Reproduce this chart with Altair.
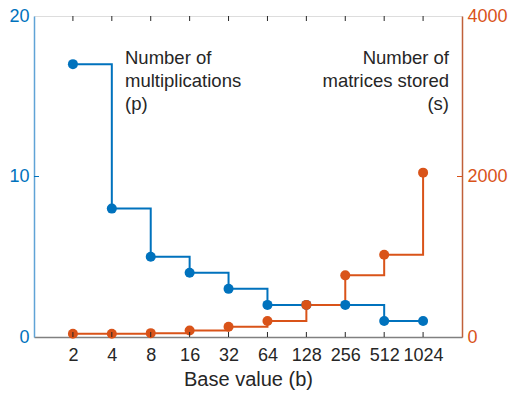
import altair as alt
import pandas as pd

# data
base_values = [2, 4, 8, 16, 32, 64, 128, 256, 512, 1024]
multiplications = [17, 8, 5, 4, 3, 2, 2, 2, 1, 1]
matrices_stored = [40, 40, 48, 80, 128, 200, 400, 768, 1024, 2048]
left_ticks = [0, 10, 20]
right_ticks = [0, 2000, 4000]
label_p = ["Number of", "multiplications", "(p)"]
label_s = ["Number of", "matrices stored", "(s)"]

BLUE = "#0072BD"
ORANGE = "#D95319"
DARK = "#262626"
FONT = "Liberation Sans"

df = pd.DataFrame({"b": base_values, "p": multiplications, "s": matrices_stored})

xenc = alt.X(
    "b:O",
    sort=base_values,
    scale=alt.Scale(type="point", padding=1),
    axis=alt.Axis(
        title="Base value (b)", labelAngle=0, ticks=False, labelOverlap=False,
        domainColor="#808080", domainWidth=1.5, labelColor=DARK, titleColor=DARK,
        labelFont=FONT, titleFont=FONT, labelFontSize=18, titleFontSize=20,
        titleFontWeight="normal", labelPadding=9, titlePadding=5, grid=False,
    ),
)

p_scale = alt.Scale(domain=[0, 20], nice=False, zero=True)
s_scale = alt.Scale(domain=[0, 4000], nice=False, zero=True)

p_axis = alt.Axis(
    orient="left", values=left_ticks, title=None, ticks=False, grid=False,
    domainColor="#5FA3D6", domainWidth=1.5, labelColor=BLUE, labelFont=FONT,
    labelFontSize=18, labelPadding=5, format="d",
)
s_axis = alt.Axis(
    orient="right", values=right_ticks, title=None, ticks=False, grid=False,
    domainColor="#C0603A", domainWidth=1.5, labelColor=ORANGE, labelFont=FONT,
    labelFontSize=18, labelPadding=5, format="d",
)

base = alt.Chart(df)

blue_line = base.mark_line(interpolate="step-after", color=BLUE, strokeWidth=2).encode(
    x=xenc, y=alt.Y("p:Q", scale=p_scale, axis=None)
)
orange_line = base.mark_line(interpolate="step-after", color=ORANGE, strokeWidth=2).encode(
    x=xenc, y=alt.Y("s:Q", scale=s_scale, axis=None)
)
blue_pts = base.mark_point(filled=True, size=100, color=BLUE, opacity=1).encode(
    x=xenc, y=alt.Y("p:Q", scale=p_scale, axis=p_axis)
)
orange_pts = base.mark_point(filled=True, size=100, color=ORANGE, opacity=1).encode(
    x=xenc, y=alt.Y("s:Q", scale=s_scale, axis=s_axis)
)

xticks_bottom = base.mark_rule(color=DARK, strokeWidth=1).encode(
    x=xenc, y=alt.value(321), y2=alt.value(316)
)
xticks_top = base.mark_rule(color=DARK, strokeWidth=1).encode(
    x=xenc, y=alt.value(0), y2=alt.value(5)
)

lt = alt.Chart(pd.DataFrame({"p": left_ticks[1:2]})).mark_rule(color=BLUE, strokeWidth=1).encode(
    y=alt.Y("p:Q", scale=p_scale, axis=None), x=alt.value(0), x2=alt.value(5)
)
rt = alt.Chart(pd.DataFrame({"s": right_ticks[1:2]})).mark_rule(color=ORANGE, strokeWidth=1).encode(
    y=alt.Y("s:Q", scale=s_scale, axis=None), x=alt.value(423), x2=alt.value(428)
)

one = pd.DataFrame({"k": [0]})
text_p = alt.Chart(one).mark_text(
    align="left", baseline="alphabetic", font=FONT, fontSize=18.5, lineHeight=23, color=DARK
).encode(x=alt.value(91), y=alt.value(48), text=alt.value(label_p))
text_s = alt.Chart(one).mark_text(
    align="right", baseline="alphabetic", font=FONT, fontSize=18.5, lineHeight=23, color=DARK
).encode(x=alt.value(415), y=alt.value(48), text=alt.value(label_s))

chart = alt.layer(
    blue_line, orange_line, blue_pts, orange_pts, lt, rt,
    xticks_bottom, xticks_top, text_p, text_s,
).resolve_scale(y="independent").properties(
    width=428, height=321,
    autosize=alt.AutoSizeParams(type="none"),
    padding={"left": 34, "top": 16, "right": 49, "bottom": 56},
).configure_view(stroke=DARK, strokeWidth=1).configure(background="white")

chart.save("out.html", embed_options={"renderer": "svg", "actions": False})
